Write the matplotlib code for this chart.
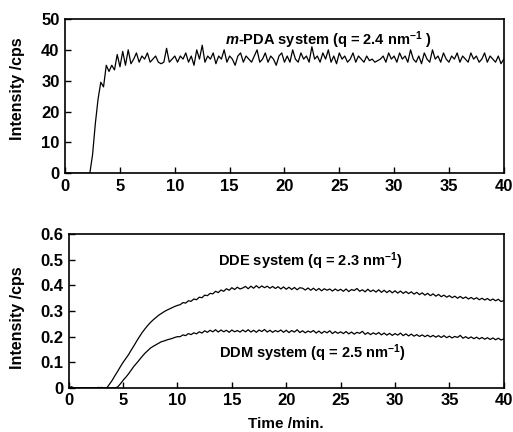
from matplotlib import pyplot as plt
import numpy as np

plt.rcParams['font.family'] = ['Liberation Sans', 'DejaVu Sans']
plt.rcParams['font.weight'] = 'bold'
plt.rcParams['mathtext.fontset'] = 'custom'
plt.rcParams['mathtext.rm'] = 'Liberation Sans:bold'
plt.rcParams['mathtext.it'] = 'Liberation Sans:bold:italic'
plt.rcParams['mathtext.bf'] = 'Liberation Sans:bold'

# 时间轴 (min), 采样间隔 0.25 min
time = np.arange(0, 40.001, 0.25)

# m-PDA 体系强度 (cps)
mpda = [0, 0, 0, 0, 0, 0, 0, 0, 0, 0,
        6, 16, 24, 29.5, 28, 35, 33, 35, 33.5, 38.5, 34.5, 39.5, 35, 40, 35.5,
        37, 39, 36, 38, 37, 39, 36, 37, 38, 36, 35.5, 36, 40.5, 36, 37, 38,
        36, 38, 37, 39, 36, 38, 35, 40, 37, 41.5, 36, 38, 37, 39, 35.5, 38, 37, 40, 36, 38,
        37, 35, 38, 39, 36, 38, 37, 36, 38, 40, 36, 37, 39, 36, 38, 37, 35, 38, 39, 36,
        38, 36, 40, 37, 36, 39, 37, 38, 36, 41, 37, 38, 36, 39, 37, 40, 36, 38, 35.5, 39,
        37, 38, 36, 37, 39, 36, 38, 37, 36, 38, 36.5, 37, 36, 36.5, 37, 38, 36, 39, 37, 38,
        36, 39, 37, 38, 36, 40, 37, 36, 38, 35.5, 39, 37, 36, 40, 37, 38, 36, 39, 37, 36,
        38, 37, 39, 36, 38, 37, 36, 39, 37, 38, 36, 37, 39, 36, 38, 37, 36, 38, 35.5, 37]

# DDE 体系强度 (cps)
dde = [0, 0.004, 0, 0, 0, 0, 0, 0, 0, 0, 0, 0.002, 0, 0,
       0, 0.015, 0.03, 0.048, 0.065, 0.083, 0.1, 0.115, 0.13, 0.148, 0.165, 0.183, 0.2,
       0.216, 0.23, 0.243, 0.255, 0.265, 0.274, 0.283, 0.29, 0.297, 0.303, 0.308, 0.313,
       0.318, 0.322,
       0.325, 0.333, 0.331, 0.34, 0.338, 0.347, 0.344, 0.354, 0.352, 0.362, 0.36, 0.369,
       0.367, 0.377, 0.372, 0.382, 0.377, 0.387, 0.381, 0.391, 0.384, 0.393, 0.386, 0.39,
       0.396, 0.387, 0.397, 0.389, 0.399, 0.39, 0.398, 0.391, 0.397, 0.389, 0.396, 0.388,
       0.395, 0.386, 0.394, 0.385, 0.393, 0.384, 0.392, 0.383, 0.391, 0.389, 0.382, 0.39,
       0.381, 0.389, 0.38, 0.388, 0.379, 0.387, 0.381, 0.386, 0.378, 0.386, 0.379, 0.385,
       0.377, 0.386, 0.376, 0.384, 0.38, 0.388, 0.377, 0.383, 0.375, 0.385, 0.376, 0.382,
       0.374, 0.383, 0.373, 0.381, 0.372, 0.38, 0.371, 0.379, 0.37, 0.378, 0.369, 0.376,
       0.368, 0.375, 0.366, 0.373, 0.364, 0.371, 0.362, 0.369, 0.36, 0.367, 0.358, 0.365,
       0.356, 0.362, 0.354, 0.36, 0.352, 0.358, 0.35, 0.357, 0.349, 0.355, 0.347, 0.353,
       0.346, 0.352, 0.344, 0.35, 0.343, 0.349, 0.341, 0.347, 0.34, 0.346, 0.337, 0.341]

# DDM 体系强度 (cps)
ddm = [0, 0.003, 0, 0, 0, 0, 0, 0, 0, 0, 0, 0, 0.002, 0, 0, 0, 0, 0,
       0.004, 0.016, 0.03, 0.042, 0.055, 0.07, 0.085, 0.097, 0.11, 0.123, 0.135, 0.145,
       0.155, 0.162, 0.168, 0.174, 0.18, 0.183, 0.187, 0.19, 0.193, 0.197, 0.2,
       0.2, 0.207, 0.204, 0.212, 0.208, 0.215, 0.211, 0.219, 0.214, 0.223, 0.217, 0.225,
       0.219, 0.227, 0.218, 0.226, 0.219, 0.225, 0.217, 0.226, 0.219, 0.224, 0.218, 0.226,
       0.219, 0.227, 0.218, 0.225, 0.217, 0.226, 0.22, 0.228, 0.218, 0.225, 0.217, 0.224,
       0.219, 0.226, 0.217, 0.225, 0.216, 0.224, 0.218, 0.227, 0.216, 0.223, 0.215, 0.222,
       0.217, 0.224, 0.214, 0.222, 0.213, 0.221, 0.215, 0.223, 0.212, 0.22, 0.213, 0.219,
       0.212, 0.22, 0.211, 0.218, 0.21, 0.217, 0.213, 0.221, 0.209, 0.216, 0.208, 0.215,
       0.209, 0.216, 0.207, 0.214, 0.206, 0.213, 0.205, 0.212, 0.206, 0.214, 0.204, 0.211,
       0.203, 0.21, 0.202, 0.208, 0.201, 0.207, 0.2, 0.206, 0.199, 0.205, 0.198, 0.204,
       0.197, 0.204, 0.196, 0.202, 0.195, 0.201, 0.197, 0.205, 0.194, 0.2, 0.193, 0.199,
       0.192, 0.198, 0.191, 0.197, 0.19, 0.196, 0.189, 0.195, 0.188, 0.194, 0.187, 0.191]

fig = plt.figure(figsize=(5.13, 4.32), dpi=100)
ax1 = fig.add_axes([0.127, 0.599, 0.855, 0.357])
ax2 = fig.add_axes([0.134, 0.102, 0.848, 0.356])

ax1.plot(time, mpda, color='black', lw=0.9)
ax2.plot(time, dde, color='black', lw=0.9)
ax2.plot(time, ddm, color='black', lw=0.9)

ax1.set_xlim(0, 40)
ax1.set_ylim(0, 50)
ax1.set_xticks(range(0, 41, 5))
ax1.set_yticks(range(0, 51, 10))
ax2.set_xlim(0, 40)
ax2.set_ylim(0, 0.6)
ax2.set_xticks(range(0, 41, 5))
ax2.set_yticks([0, 0.1, 0.2, 0.3, 0.4, 0.5, 0.6])
ax2.set_yticklabels(['0', '0.1', '0.2', '0.3', '0.4', '0.5', '0.6'])

for ax in (ax1, ax2):
    ax.tick_params(direction='in', length=4, width=1, labelsize=12, pad=4)
    for s in ax.spines.values():
        s.set_linewidth(1.2)
    for lab in ax.get_xticklabels() + ax.get_yticklabels():
        lab.set_fontweight('bold')
    ax.set_ylabel('Intensity /cps', fontsize=11.5, fontweight='bold')

ax1.yaxis.set_label_coords(-0.091, 0.55)
ax2.yaxis.set_label_coords(-0.1, 0.46)
ax2.set_xlabel('Time /min.', fontsize=11, fontweight='bold')
ax2.xaxis.set_label_coords(0.5, -0.19)

ax1.text(14.6, 43, r'$\mathit{m}$-PDA system (q = 2.4 nm$^{\mathrm{-1}}$ )',
         fontsize=10.5, fontweight='bold', va='center')
ax2.text(13.7, 0.495, r'DDE system (q = 2.3 nm$^{\mathrm{-1}}$)',
         fontsize=10.5, fontweight='bold', va='center')
ax2.text(13.8, 0.137, r'DDM system (q = 2.5 nm$^{\mathrm{-1}}$)',
         fontsize=10.5, fontweight='bold', va='center')

fig.savefig('out.png', dpi=100)
